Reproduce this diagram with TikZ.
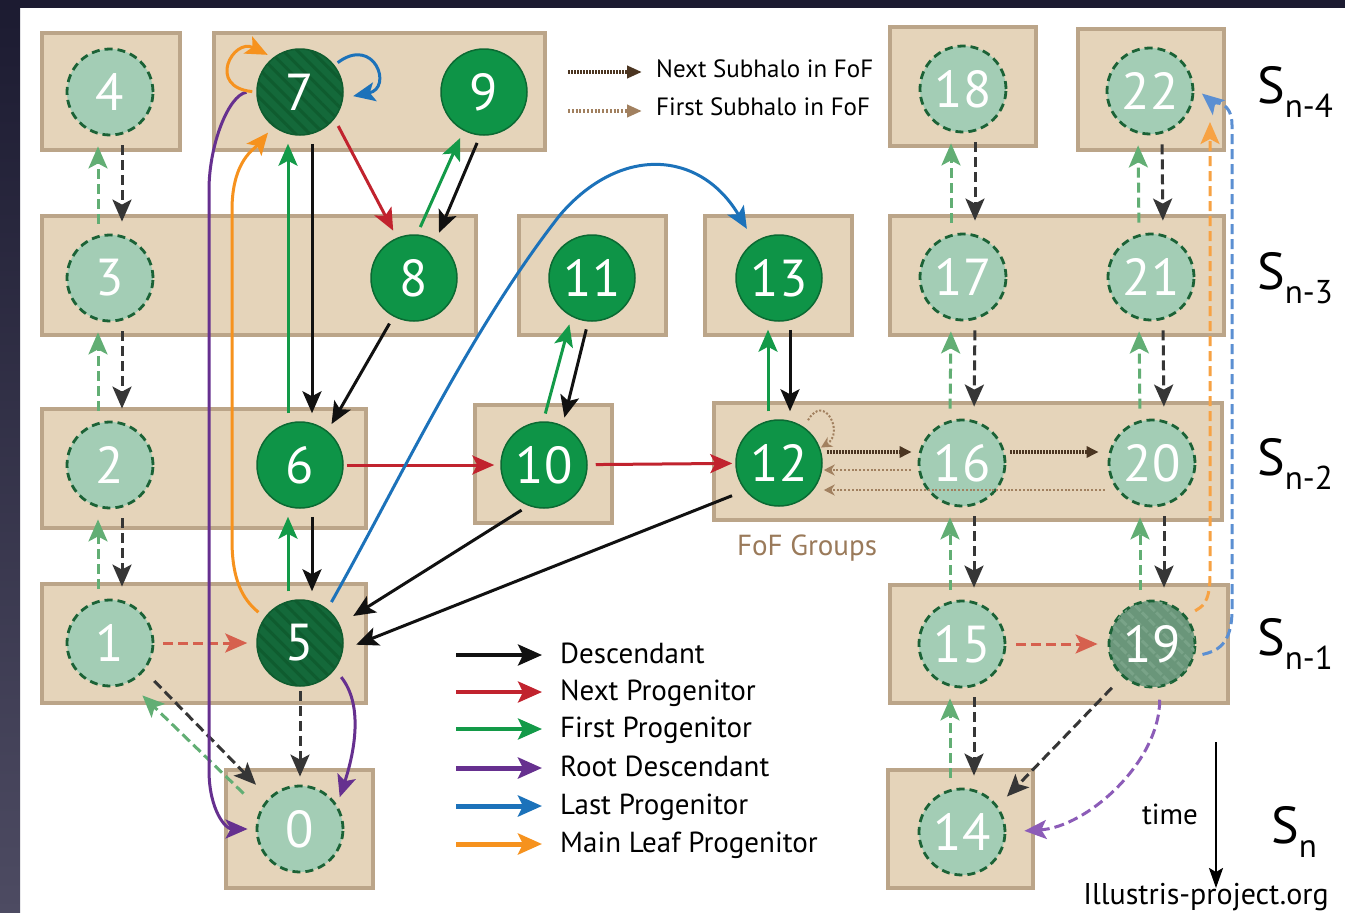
\documentclass[tikz,border=0pt]{standalone}
\usepackage{fontspec}
\setmainfont{PT Sans}
\usetikzlibrary{arrows.meta,positioning,patterns.meta}

\definecolor{slidebg}{HTML}{1C1B31}
\definecolor{slidebot}{HTML}{4D4B62}
\definecolor{boxfill}{HTML}{E5D4BA}
\definecolor{boxline}{HTML}{BBA589}
\definecolor{halogreen}{HTML}{0E9447}
\definecolor{halodark}{HTML}{0B6A33}
\definecolor{mainfill}{HTML}{14693A}
\definecolor{mainstripe}{HTML}{0F5C2F}
\definecolor{ghostfill}{HTML}{A3CDB5}
\definecolor{ghostdraw}{HTML}{1B6236}
\definecolor{ghostmainfill}{HTML}{6A967A}
\definecolor{ghoststripe}{HTML}{79A388}
\definecolor{desccol}{HTML}{111111}
\definecolor{nextcol}{HTML}{C1232E}
\definecolor{firstcol}{HTML}{139A48}
\definecolor{rootcol}{HTML}{66308F}
\definecolor{lastcol}{HTML}{1C72BA}
\definecolor{leafcol}{HTML}{F6921E}
\definecolor{gdesccol}{HTML}{363636}
\definecolor{gnextcol}{HTML}{D6604E}
\definecolor{gfirstcol}{HTML}{62AE74}
\definecolor{grootcol}{HTML}{8C5CB8}
\definecolor{glastcol}{HTML}{5B8FD2}
\definecolor{gleafcol}{HTML}{F7A243}
\definecolor{nextsubcol}{HTML}{4B3521}
\definecolor{firstsubcol}{HTML}{A1805F}
\definecolor{fofcol}{HTML}{9A7A5A}

\newcommand{\halofont}{\fontsize{52}{52}\selectfont}
\newcommand{\keyfont}{\fontsize{29}{34}\selectfont}
\newcommand{\fofkeyfont}{\fontsize{25}{28}\selectfont}
\newcommand{\slabel}[1]{{\fontsize{52}{52}\selectfont S}{\fontsize{33}{33}\selectfont\raisebox{-14pt}{#1}}}

\begin{document}
\begin{tikzpicture}[x=1pt,y=-1pt,>={Stealth[length=22pt,width=19pt,inset=5pt]}]
  \tikzstyle{fofbox}=[draw=boxline,fill=boxfill,line width=3.5pt]
  \tikzstyle{subhalo}=[circle,minimum size=86pt,inner sep=0pt,text=white,font=\halofont,fill=halogreen,draw=halodark,line width=1.5pt]
  \tikzstyle{mainhalo}=[subhalo,fill=mainfill,draw=mainstripe,postaction={pattern={Lines[angle=-45,distance=10pt,line width=3pt]},pattern color=mainstripe}]
  \tikzstyle{ghost}=[subhalo,fill=ghostfill,draw=ghostdraw,line width=2.8pt,dash pattern=on 8pt off 5pt]
  \tikzstyle{ghostmain}=[ghost,fill=ghostmainfill,postaction={pattern={Lines[angle=-45,distance=10pt,line width=3pt]},pattern color=ghoststripe}]
  \tikzstyle{link}=[->,line width=3pt,shorten <=8pt,shorten >=8pt]
  \tikzstyle{descarrow}=[link,draw=desccol]
  \tikzstyle{nextarrow}=[link,draw=nextcol]
  \tikzstyle{firstarrow}=[link,draw=firstcol]
  \tikzstyle{rootarrow}=[link,draw=rootcol]
  \tikzstyle{lastarrow}=[link,draw=lastcol]
  \tikzstyle{leafarrow}=[link,draw=leafcol]
  \tikzstyle{ghostlink}=[link,line width=3pt,dash pattern=on 10pt off 5pt]
  \tikzstyle{ghostdesc}=[ghostlink,draw=gdesccol]
  \tikzstyle{ghostnext}=[ghostlink,draw=gnextcol]
  \tikzstyle{ghostfirst}=[ghostlink,draw=gfirstcol]
  \tikzstyle{ghostroot}=[ghostlink,draw=grootcol]
  \tikzstyle{ghostlast}=[ghostlink,draw=glastcol]
  \tikzstyle{ghostleaf}=[ghostlink,draw=gleafcol]
  \tikzstyle{nextsub}=[draw=nextsubcol,line width=4pt,dash pattern=on 1.8pt off 1.2pt,-{Triangle[length=12pt,width=11pt]},shorten <=4pt,shorten >=6pt]
  \tikzstyle{firstsub}=[draw=firstsubcol,line width=2.4pt,dash pattern=on 2pt off 1.8pt,-{Stealth[length=11pt,width=11pt]},shorten <=3pt,shorten >=1pt]
  \tikzstyle{keyarrow}=[line width=4pt,shorten <=0pt,shorten >=0pt,-{Stealth[length=24pt,width=21pt,inset=5pt]}]
  \tikzstyle{keytext}=[anchor=base west,inner sep=0pt,font=\keyfont]

  % Slide edge
  \useasboundingbox (0,0) rectangle (1345,913);
  \fill[white] (0,0) rectangle (1345,913);
  \shade[top color=slidebg,bottom color=slidebot] (0,0) rectangle (20,913);
  \fill[slidebg] (0,0) rectangle (1345,8);

  % FoF groups
  \draw[fofbox] (42,33) rectangle (180,150);
  \draw[fofbox] (214,33) rectangle (545,150);
  \draw[fofbox] (890,27) rectangle (1036,146);
  \draw[fofbox] (1078,29) rectangle (1224,150);
  \draw[fofbox] (42,216) rectangle (476,335);
  \draw[fofbox] (519,216) rectangle (666,335);
  \draw[fofbox] (705,216) rectangle (852,335);
  \draw[fofbox] (890,216) rectangle (1224,335);
  \draw[fofbox] (42,409) rectangle (366,528);
  \draw[fofbox] (475,405) rectangle (612,523);
  \draw[fofbox] (714,403) rectangle (1222,520);
  \draw[fofbox] (42,584) rectangle (366,703);
  \draw[fofbox] (890,585) rectangle (1228,703);
  \draw[fofbox] (226,770) rectangle (373,888);
  \draw[fofbox] (888,770) rectangle (1033,888);

  % Subhalos
  \node[ghost] (h0) at (300,829) {0};
  \node[ghost] (h1) at (110,643) {1};
  \node[ghost] (h2) at (110,465) {2};
  \node[ghost] (h3) at (110,278) {3};
  \node[ghost] (h4) at (110,92) {4};
  \node[mainhalo] (h5) at (300,643) {5};
  \node[subhalo] (h6) at (300,465) {6};
  \node[mainhalo] (h7) at (300,92) {7};
  \node[subhalo] (h8) at (414,278) {8};
  \node[subhalo] (h9) at (484,92) {9};
  \node[subhalo] (h10) at (544,465) {10};
  \node[subhalo] (h11) at (592,278) {11};
  \node[subhalo] (h12) at (779,463) {12};
  \node[subhalo] (h13) at (779,278) {13};
  \node[ghost] (h14) at (962,832) {14};
  \node[ghost] (h15) at (962,644) {15};
  \node[ghost] (h16) at (962,463) {16};
  \node[ghost] (h17) at (963,277) {17};
  \node[ghost] (h18) at (963,89) {18};
  \node[ghostmain] (h19) at (1152,644) {19};
  \node[ghost] (h20) at (1152,463) {20};
  \node[ghost] (h21) at (1151,277) {21};
  \node[ghost] (h22) at (1150,91) {22};

  % Ghost branches
  \foreach \lo/\up in {h1/h2,h2/h3,h3/h4,h14/h15,h15/h16,h16/h17,h17/h18,h19/h20,h20/h21,h21/h22}
  {
    \draw[ghostfirst,shorten <=10pt,shorten >=10pt] ([xshift=-12pt]\lo.north) -- ([xshift=-12pt]\up.south);
    \draw[ghostdesc,shorten <=9pt,shorten >=12pt] ([xshift=12pt]\up.south) -- ([xshift=12pt]\lo.north);
  }
  \draw[ghostnext,shorten <=9pt,shorten >=9pt] (h1) -- (h5);
  \draw[ghostnext,shorten <=10pt,shorten >=10pt] (h15) -- (h19);
  \draw[ghostdesc,shorten <=4pt] (h5) -- (h0);
  \draw[ghostdesc,shorten <=14pt,shorten >=18pt] (h1.-39) -- (h0.135);
  \draw[ghostfirst,shorten <=23pt,shorten >=18pt] (h0.154) -- (h1.-64);
  \draw[ghostdesc,shorten <=15pt,shorten >=13pt] (h19.-132) -- (h14.36);
  \draw[ghostroot,shorten <=12pt,shorten >=18pt] (h19.-80) .. controls +(0,75) and +(80,-5) .. (h14.0);
  \coordinate (leafend) at (1210,122);
  \draw[ghostleaf,shorten <=10pt,shorten >=0pt] (h19.38) .. controls +(14,-10) and +(0,30) .. (1210,575) -- (leafend);
  \draw[ghostlast,shorten >=10pt] (h19.-16) .. controls +(22,-5) and +(0,35) .. (1232,610) -- (1232,125) .. controls +(0,-25) and +(18,15) .. (h22.5);

  % Main branch
  \foreach \lo/\up in {h5/h6,h6/h7}
  {
    \draw[firstarrow] ([xshift=-12pt]\lo.north) -- ([xshift=-12pt]\up.south);
    \draw[descarrow] ([xshift=12pt]\up.south) -- ([xshift=12pt]\lo.north);
  }
  \draw[firstarrow] ([xshift=-11pt]h12.north) -- ([xshift=-11pt]h13.south);
  \draw[descarrow] ([xshift=11pt]h13.south) -- ([xshift=11pt]h12.north);
  \draw[nextarrow] (h7.-38) -- (h8.113);
  \draw[firstarrow] (h8.86) -- (h9.-118);
  \draw[descarrow] (h9.-95) -- (h8.60);
  \draw[descarrow] (h8.-118) -- (h6.51);
  \draw[firstarrow] (h10.91) -- (h11.-118);
  \draw[descarrow] (h11.-95) -- (h10.65);
  \draw[descarrow,shorten >=16pt] (h10.-111) -- (h5.25);
  \draw[descarrow,shorten <=14pt,shorten >=14pt] (h12.-141) -- (h5.-9);
  \draw[nextarrow,shorten <=3pt,shorten >=6pt] (h6) -- (h10);
  \draw[nextarrow,shorten >=3pt] (h10) -- (h12);
  \draw[rootarrow,shorten <=10pt] (h5.-37) .. controls +(28,35) and +(18,-55) .. (h0.33);
  \draw[rootarrow,shorten <=10pt] (h7.178) .. controls +(-28,5) and +(0,-45) .. (209,190) -- (209,770) .. controls +(0,40) and +(-30,0) .. (h0.180);
  \draw[leafarrow] (h5.144) .. controls +(-22,-18) and +(0,40) .. (232,540) -- (232,210) .. controls +(0,-50) and +(-18,22) .. (h7.-128);
  \draw[leafarrow,shorten <=4pt,shorten >=6pt] (h7.180) .. controls +(-50,-5) and +(-40,-20) .. (h7.128);
  \draw[lastarrow,shorten <=4pt,shorten >=10pt] (h7.38) .. controls +(40,-30) and +(50,-10) .. (h7.-8);
  \draw[lastarrow,shorten >=15pt] (h5.51) .. controls (400,480) and (470,330) .. (560,215) .. controls (620,145) and (700,150) .. (h13.124);

  % Subhalos in FoF
  \draw[nextsub] ([yshift=11pt]h12.east) -- ([yshift=11pt]h16.west);
  \draw[nextsub,shorten >=9pt] ([yshift=11pt]h16.east) -- ([yshift=11pt]h20.west);
  \draw[firstsub,shorten <=7pt] ([yshift=-7pt]h16.west) -- ([yshift=-7pt]h12.east);
  \draw[firstsub] ([yshift=-27pt]h20.west) -- ([yshift=-27pt]h12.east);
  \draw[firstsub,line width=2pt,shorten <=8pt] (h12.55) .. controls +(20,-35) and +(25,-15) .. (h12.20);
  \node[font=\keyfont,text=fofcol] (fofgroups) at (807,548) {FoF Groups};

  % Legend
  \node[keytext] (lgdesc) at (560,663) {Descendant};
  \node[keytext] (lgnext) at (560,700) {Next Progenitor};
  \node[keytext] (lgfirst) at (560,737) {First Progenitor};
  \node[keytext] (lgroot) at (560,776) {Root Descendant};
  \node[keytext] (lglast) at (560,814) {Last Progenitor};
  \node[keytext] (lgleaf) at (560,852) {Main Leaf Progenitor};
  \draw[descarrow,keyarrow] ([shift={(-104pt,8pt)}]lgdesc.base west) -- ([shift={(-18pt,8pt)}]lgdesc.base west);
  \draw[nextarrow,keyarrow] ([shift={(-104pt,8pt)}]lgnext.base west) -- ([shift={(-18pt,8pt)}]lgnext.base west);
  \draw[firstarrow,keyarrow] ([shift={(-104pt,8pt)}]lgfirst.base west) -- ([shift={(-18pt,8pt)}]lgfirst.base west);
  \draw[rootarrow,keyarrow,line width=5pt] ([shift={(-104pt,8pt)}]lgroot.base west) -- ([shift={(-18pt,8pt)}]lgroot.base west);
  \draw[lastarrow,keyarrow,line width=5pt] ([shift={(-104pt,8pt)}]lglast.base west) -- ([shift={(-18pt,8pt)}]lglast.base west);
  \draw[leafarrow,keyarrow,line width=5pt] ([shift={(-104pt,8pt)}]lgleaf.base west) -- ([shift={(-18pt,8pt)}]lgleaf.base west);
  \node[keytext,font=\fofkeyfont] (lgnextsub) at (656,77) {Next Subhalo in FoF};
  \node[keytext,font=\fofkeyfont] (lgfirstsub) at (656,115) {First Subhalo in FoF};
  \draw[nextsub,shorten <=0pt,shorten >=0pt,-{Triangle[length=15pt,width=12pt]}] ([shift={(-88pt,5pt)}]lgnextsub.base west) -- ([shift={(-14pt,5pt)}]lgnextsub.base west);
  \draw[firstsub,line width=4pt,-{Triangle[length=15pt,width=12pt]},shorten <=0pt,shorten >=0pt] ([shift={(-88pt,4pt)}]lgfirstsub.base west) -- ([shift={(-14pt,4pt)}]lgfirstsub.base west);

  % Snapshots
  \node[anchor=west,inner sep=0pt] (sn4) at (1257,92) {\slabel{n-4}};
  \node[anchor=west,inner sep=0pt] (sn3) at (1257,278) {\slabel{n-3}};
  \node[anchor=west,inner sep=0pt] (sn2) at (1257,464) {\slabel{n-2}};
  \node[anchor=west,inner sep=0pt] (sn1) at (1257,644) {\slabel{n-1}};
  \node[anchor=west,inner sep=0pt] (sn0) at (1271,832) {\slabel{n}};
  \node[font=\keyfont] (timelabel) at (1170,814) {time};
  \coordinate (timestart) at (1216,742);
  \coordinate (timeend) at (1216,888);
  \draw[->,line width=2.5pt,>={Stealth[length=20pt,width=14pt,inset=4pt]}] (timestart) -- (timeend);
  \node[font=\fontsize{30}{32}\selectfont] (credit) at (1206,897) {Illustris-project.org};
\end{tikzpicture}
\end{document}
